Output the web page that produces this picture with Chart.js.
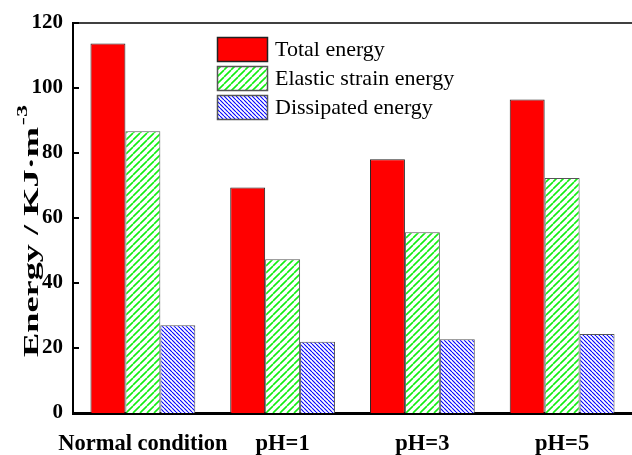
<!DOCTYPE html>
<html>
<head>
<meta charset="utf-8">
<script src="https://cdn.jsdelivr.net/npm/chart.js@4"></script>
<style>
  body { margin: 0; background: #fff; }
  #wrap { width: 632px; height: 455px; }
</style>
</head>
<body>
<div id="wrap"><canvas id="energy-chart" width="632" height="455"></canvas></div>
<script>
// Chart values
const categories = ['Normal condition', 'pH=1', 'pH=3', 'pH=5'];
const seriesNames = ['Total energy', 'Elastic strain energy', 'Dissipated energy'];
const totalEnergy = [113.7, 69.4, 78.1, 96.5];
const elasticEnergy = [86.7, 47.3, 55.6, 72.3];
const dissipatedEnergy = [27.0, 21.9, 22.7, 24.3];
const yTickValues = [0, 20, 40, 60, 80, 100, 120];

const serif = "'Liberation Serif', 'Times New Roman', serif";

// Hatch pattern helper: diagonal stripes on white
function makeHatch(size, color, lineWidth, dir) {
    const c = document.createElement('canvas');
    c.width = size;
    c.height = size;
    const g = c.getContext('2d');
    g.fillStyle = '#fff';
    g.fillRect(0, 0, size, size);
    g.strokeStyle = color;
    g.lineWidth = lineWidth;
    g.beginPath();
    if (dir === '/') {
        for (let k = -1; k <= 1; k++) {
            g.moveTo(k * size, size);
            g.lineTo(k * size + size, 0);
        }
    } else {
        for (let k = -1; k <= 1; k++) {
            g.moveTo(k * size, 0);
            g.lineTo(k * size + size, size);
        }
    }
    g.stroke();
    return g.createPattern(c, 'repeat');
}

const ctx = document.getElementById('energy-chart').getContext('2d');
const greenHatch = makeHatch(7, '#11ee11', 1.6, '/');
const blueHatch = makeHatch(4, '#0000ff', 1.1, '\\');

// Custom drawing: inward ticks, top border, y title with superscript, legend
const decorPlugin = {
    id: 'decor',
    afterDraw(chart) {
        const c = chart.ctx;
        const area = chart.chartArea;
        const y = chart.scales.y;
        c.save();
        c.strokeStyle = '#000';
        // top border
        c.lineWidth = 1.5;
        c.beginPath();
        c.moveTo(area.left, area.top);
        c.lineTo(area.right, area.top);
        c.stroke();
        // inward ticks
        c.lineWidth = 2;
        yTickValues.forEach(function(v) {
            const py = Math.round(y.getPixelForValue(v));
            c.beginPath();
            c.moveTo(area.left, py);
            c.lineTo(area.left + 6, py);
            c.stroke();
        });

        // y axis title, drawn long like the original
        c.fillStyle = '#000';
        c.translate(33, 231);
        c.rotate(-Math.PI / 2);
        c.font = 'bold 21px ' + serif;
        const main = 'Energy / KJ\u00b7m';
        const w1 = c.measureText(main).width;
        c.font = 'bold 14px ' + serif;
        const sup = '-3';
        const w2 = c.measureText(sup).width;
        const stretch = 252 / (w1 + w2 + 1);
        c.scale(stretch, 1);
        const x0 = -(w1 + w2 + 1) / 2;
        c.textBaseline = 'middle';
        c.textAlign = 'left';
        c.font = 'bold 21px ' + serif;
        c.fillText(main, x0, 0);
        c.font = 'bold 14px ' + serif;
        c.fillText(sup, x0 + w1 + 1, -10);
        c.restore();

        // legend
        c.save();
        const boxX = 217, boxW = 51, boxH = 25;
        const rowsY = [37, 66, 95];
        c.font = '22px ' + serif;
        c.textBaseline = 'middle';
        c.textAlign = 'left';
        chart.data.datasets.forEach(function(ds, i) {
            const by = rowsY[i];
            c.fillStyle = ds.backgroundColor;
            c.fillRect(boxX, by, boxW, boxH);
            c.strokeStyle = ds.borderColor;
            c.lineWidth = 1.5;
            c.strokeRect(boxX + 0.5, by + 0.5, boxW - 1, boxH - 1);
            c.fillStyle = '#000';
            c.fillText(ds.label, 275, by + boxH / 2 + 1);
        });
        c.restore();
    }
};

new Chart(ctx, {
    type: 'bar',
    data: {
        labels: categories,
        datasets: [
            {
                label: seriesNames[0],
                data: totalEnergy,
                backgroundColor: '#ff0000',
                borderColor: '#222',
                borderWidth: 1
            },
            {
                label: seriesNames[1],
                data: elasticEnergy,
                backgroundColor: greenHatch,
                borderColor: '#555',
                borderWidth: 1
            },
            {
                label: seriesNames[2],
                data: dissipatedEnergy,
                backgroundColor: blueHatch,
                borderColor: '#555',
                borderWidth: 1
            }
        ]
    },
    options: {
        responsive: false,
        animation: false,
        layout: { padding: { top: 23, left: 0, right: 0, bottom: 0 } },
        datasets: {
            bar: { categoryPercentage: 0.75, barPercentage: 1.0 }
        },
        plugins: {
            legend: { display: false },
            tooltip: { enabled: false }
        },
        scales: {
            x: {
                grid: { display: false, drawTicks: false },
                border: { display: true, color: '#000', width: 3 },
                ticks: {
                    color: '#000',
                    padding: 18,
                    maxRotation: 0,
                    autoSkip: false,
                    font: { family: serif, size: 22.5, weight: 'bold' }
                },
                afterFit: function(scale) { scale.height = 42; }
            },
            y: {
                min: 0,
                max: 120,
                grid: { display: false, drawTicks: false },
                border: { display: true, color: '#000', width: 2 },
                ticks: {
                    stepSize: 20,
                    color: '#000',
                    padding: 10,
                    font: { family: serif, size: 21, weight: 'bold' }
                },
                afterFit: function(scale) { scale.width = 73; }
            }
        }
    },
    plugins: [decorPlugin]
});
</script>
</body>
</html>
